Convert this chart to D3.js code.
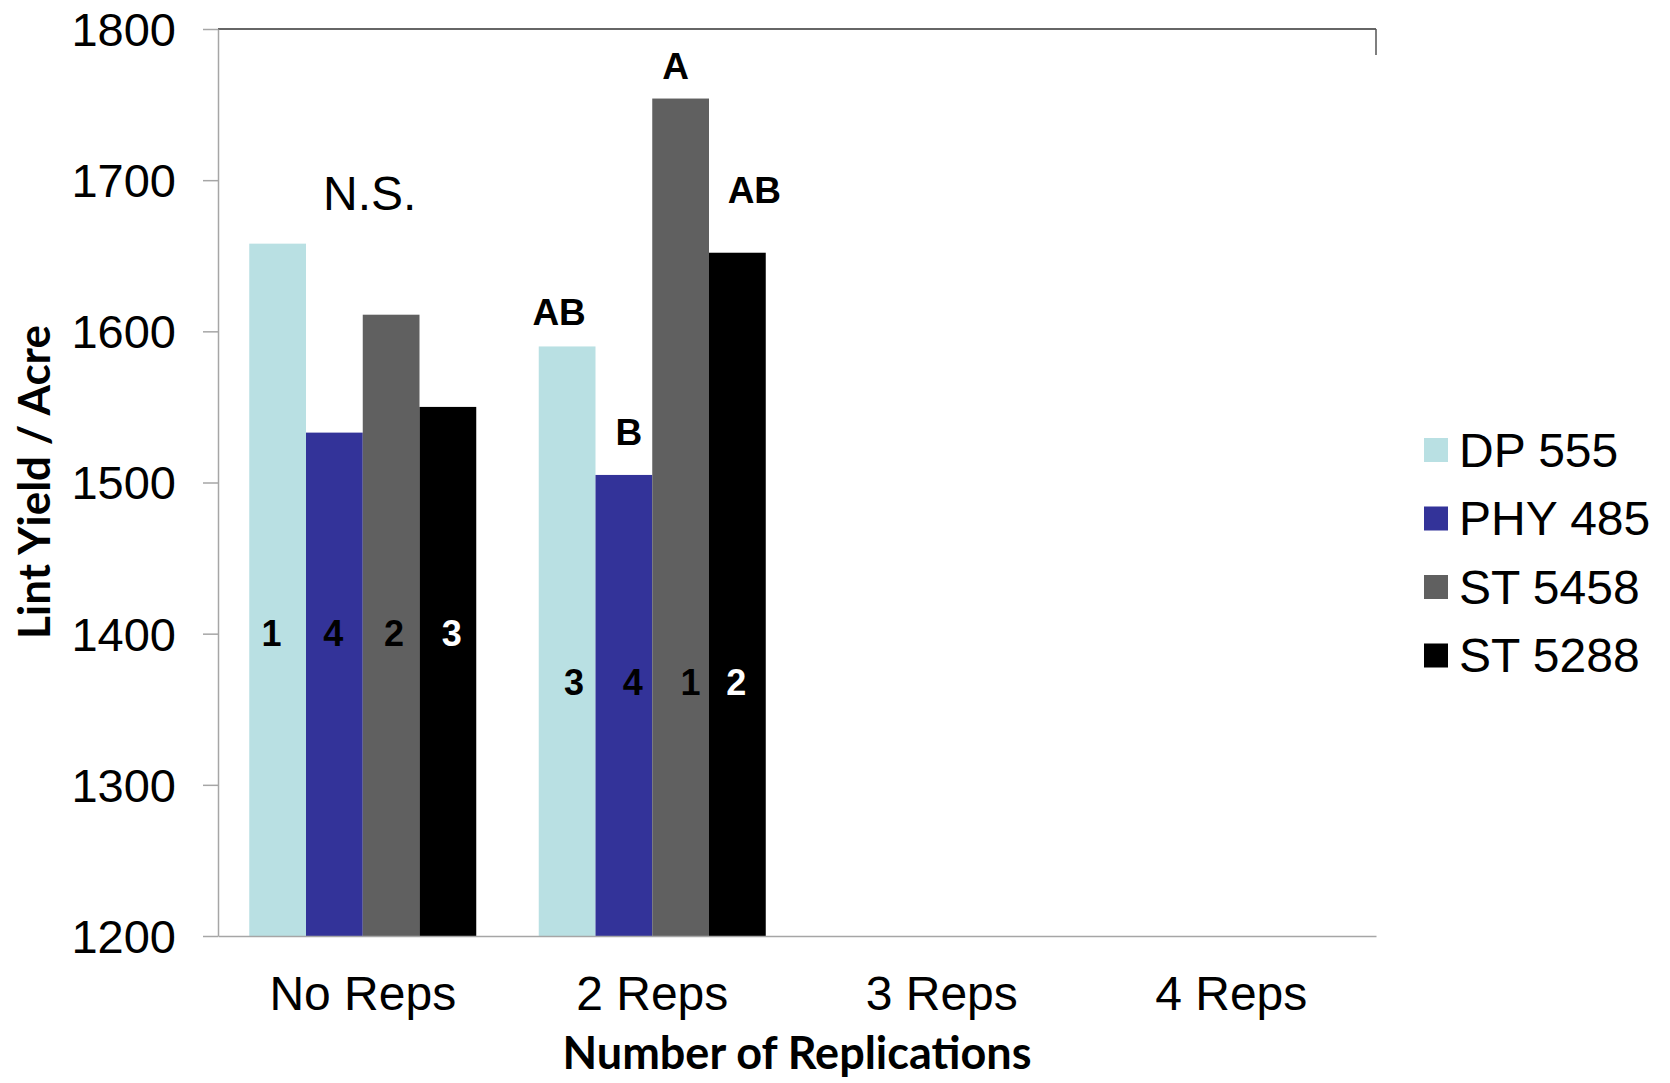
<!DOCTYPE html>
<html><head><meta charset="utf-8">
<script src="https://cdn.jsdelivr.net/npm/d3@7/dist/d3.min.js"></script>
<style>body{margin:0;background:#fff}svg{display:block}</style>
</head><body>
<svg id="c" width="1670" height="1083"></svg>
<script>
const categories = ["No Reps", "2 Reps", "3 Reps", "4 Reps"];
const seriesNames = ["DP 555", "PHY 485", "ST 5458", "ST 5288"];
const dp555  = [1658, 1590, 0, 0];
const phy485 = [1533, 1505, 0, 0];
const st5458 = [1611, 1754, 0, 0];
const st5288 = [1550, 1652, 0, 0];
const rankLabels = [["1","4","2","3"], ["3","4","1","2"]];
const letterLabels = [null, ["AB","B","A","AB"]];
const groupNote = "N.S.";
const yTicks = [1200, 1300, 1400, 1500, 1600, 1700, 1800];

const seriesValues = [dp555, phy485, st5458, st5288];
const colors = ["#b9e0e3", "#333399", "#606060", "#000000"];
const rankColors = [["#000","#000","#000","#fff"], ["#000","#000","#000","#fff"]];

const svg = d3.select("#c");
svg.append("rect").attr("width",1670).attr("height",1083).attr("fill","#fff");

const L = 218, R = 1376, T = 29, B = 936;
const y = d3.scaleLinear().domain([1200, 1800]).range([B, T]);
const x0 = d3.scaleBand().domain(categories).range([L, R]).padding(0);
const groupW = 227;
const x1 = d3.scaleBand().domain(seriesNames).range([0, groupW]).padding(0);
const gOff = (x0.bandwidth() - groupW) / 2;
const sans = "'Liberation Sans', Arial, sans-serif";

// top border and short right border
svg.append("line").attr("x1",L).attr("x2",R).attr("y1",T).attr("y2",T).attr("stroke","#333").attr("stroke-width",1.5);
svg.append("line").attr("x1",R).attr("x2",R).attr("y1",T).attr("y2",55).attr("stroke","#555").attr("stroke-width",1.5);

// bars
categories.forEach((cat, ci) => {
  seriesNames.forEach((s, si) => {
    const v = Math.max(seriesValues[si][ci], 1200);
    svg.append("rect")
      .attr("x", x0(cat) + gOff + x1(s))
      .attr("y", y(v))
      .attr("width", x1.bandwidth())
      .attr("height", Math.max(0, B - y(v)))
      .attr("fill", colors[si]);
  });
});

// y axis
const yAxis = d3.axisLeft(y).tickValues(yTicks).tickSize(15).tickSizeOuter(0).tickPadding(27).tickFormat(d3.format("d"));
const ga = svg.append("g").attr("transform", `translate(${L},0)`).call(yAxis);
ga.select(".domain").attr("stroke","#a6a6a6").attr("stroke-width",1.5);
ga.selectAll(".tick line").attr("stroke","#a6a6a6").attr("stroke-width",1.5);
ga.selectAll(".tick text").attr("font-family",sans).attr("font-size",47).attr("fill","#000").attr("dy","0.35em");

// x axis baseline
const xAxis = d3.axisBottom(x0).tickSize(0).tickSizeOuter(0).tickPadding(40);
const gx = svg.append("g").attr("transform", `translate(0,${B})`).call(xAxis);
gx.select(".domain").attr("stroke","#a6a6a6").attr("stroke-width",1.5);
gx.selectAll(".tick text").attr("font-family",sans).attr("font-size",48).attr("fill","#000");

// rank labels inside bars
const rankLevel = [1400, 1368];
const rankDx = [[-6,-1,3,4],[7,9,10,-1]];
rankLabels.forEach((labs, ci) => {
  labs.forEach((t, si) => {
    svg.append("text")
      .attr("x", x0(categories[ci]) + gOff + x1(seriesNames[si]) + x1.bandwidth()/2 + rankDx[ci][si])
      .attr("y", y(rankLevel[ci]))
      .attr("dy","0.35em")
      .attr("text-anchor","middle")
      .attr("font-family",sans)
      .attr("font-weight","bold").attr("font-size",36)
      .attr("fill", rankColors[ci][si]).text(t);
  });
});

// letter labels above bars
const letterOff = [34, 43, 32, 63];
const letterDx = [-8, 5, -5, 17];
letterLabels.forEach((labs, ci) => {
  if (!labs) return;
  labs.forEach((t, si) => {
    const v = seriesValues[si][ci];
    svg.append("text")
      .attr("x", x0(categories[ci]) + gOff + x1(seriesNames[si]) + x1.bandwidth()/2 + letterDx[si])
      .attr("y", y(v) - letterOff[si])
      .attr("dy","0.35em")
      .attr("text-anchor","middle")
      .attr("font-family",sans)
      .attr("font-weight","bold").attr("font-size",37)
      .attr("fill","#000").text(t);
  });
});

// N.S.
svg.append("text")
  .attr("x", x0(categories[0]) + x0.bandwidth()/2 + 7)
  .attr("y", 210)
  .attr("text-anchor","middle")
  .attr("font-family",sans)
  .attr("font-size",48).attr("fill","#000").text(groupNote);

// axis titles
svg.append("text")
  .attr("x", (L + R)/2).attr("y", 1069)
  .attr("text-anchor","middle")
  .attr("font-family","Lato, 'Open Sans', sans-serif")
  .attr("font-weight","bold").attr("font-size",45).attr("fill","#000")
  .text("Number of Replications");
svg.append("text")
  .attr("transform","translate(50,482) rotate(-90)")
  .attr("text-anchor","middle")
  .attr("font-family","Lato, 'Open Sans', sans-serif")
  .attr("font-weight","bold").attr("font-size",44).attr("fill","#000")
  .text("Lint Yield / Acre");

// legend
const lg = svg.append("g");
seriesNames.forEach((s, i) => {
  const cy = 450 + i * 68.5;
  lg.append("rect").attr("x",1424).attr("y",cy-12).attr("width",24).attr("height",24).attr("fill",colors[i]);
  lg.append("text").attr("x",1459).attr("y",cy).attr("dy","0.35em")
    .attr("font-family",sans)
    .attr("font-size",48).attr("fill","#000").text(s);
});
</script>
</body></html>
